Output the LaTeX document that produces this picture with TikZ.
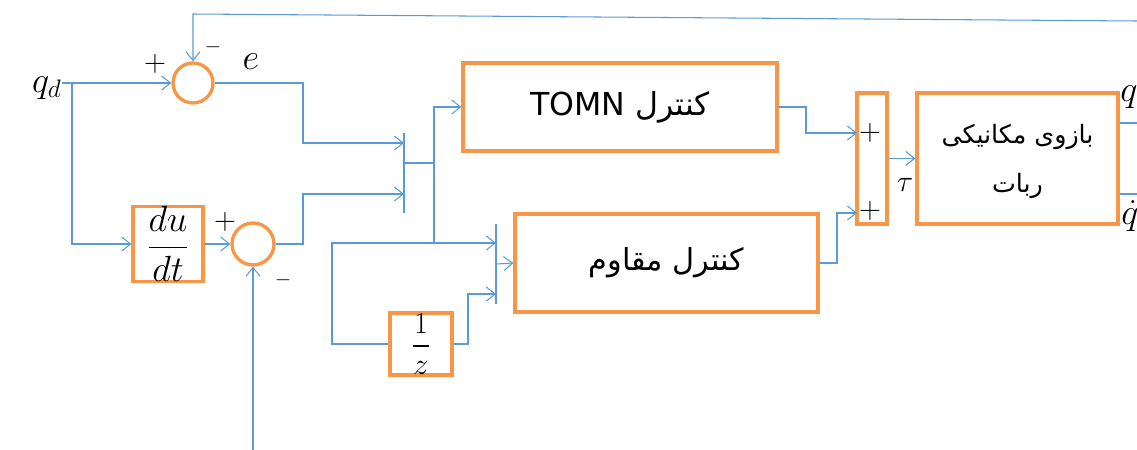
\documentclass[tikz,border=0pt]{standalone}
\usepackage{fontspec}
\usepackage{amsmath}
\usetikzlibrary{arrows.meta}
\newfontfamily\farsi[Script=Arabic]{DejaVu Sans}
\TeXXeTstate=1
\definecolor{wireblue}{RGB}{91,155,213}
\definecolor{boxorange}{RGB}{247,150,70}

\begin{document}
\begin{tikzpicture}[x=0.02cm,y=-0.02cm,
    wire/.style={draw=wireblue,line width=0.6pt},
    arr/.style={-{Straight Barb[length=5pt,width=8pt]}},
    blk/.style={draw=boxorange,line width=1.9pt,inner sep=0pt},
    sumc/.style={circle,draw=boxorange,line width=1.9pt,minimum size=0.8cm,inner sep=0pt},
    bar/.style={draw=wireblue,line width=0.6pt,minimum width=0pt,minimum height=1.6cm,inner sep=0pt},
    lbl/.style={font=\LARGE,inner sep=0pt},
    sym/.style={font=\fontsize{21}{25}\selectfont,inner sep=0pt}]
    \useasboundingbox (0,0) rectangle (1137,450);
    \node[sumc] (sumA) at (193,83) {};
    \node[sumc,minimum size=0.84cm] (sumB) at (253,244) {};
    \node[blk,minimum width=1.4cm,minimum height=1.42cm,font=\huge] (deriv) at (168,244) {$\dfrac{du}{dt}$};
    \node[blk,minimum width=1.24cm,minimum height=1.24cm,font=\LARGE] (delay) at (421,344) {$\dfrac{1}{z}$};
    \node[blk,minimum width=6.28cm,minimum height=1.76cm,font=\farsi\fontsize{18}{22}\selectfont] (tomn) at (620,107) {\beginR کنترل \beginL TOMN\endL\endR};
    \node[blk,minimum width=6.06cm,minimum height=1.96cm,font=\farsi\LARGE] (robust) at (666.5,263) {\beginR کنترل مقاوم\endR\hspace{1em}};
    \node[blk,minimum width=0.6cm,minimum height=2.62cm] (adder) at (872,158.5) {};
    \node[blk,minimum width=4.02cm,minimum height=2.62cm,align=center,font=\farsi\Large] (robot) at (1017.5,158.5) {\rule{0pt}{14pt}\beginR بازوی مکانیکی\endR\\[10pt]\beginR ربات\endR};
    \node[bar] (muxA) at (404,173) {};
    \node[bar] (muxB) at (496,264) {};

    \node[sym,font=\fontsize{22}{26}\selectfont,anchor=east] (qd) at (62,88) {$q_d$};
    \node[lbl] (pA) at (155,64) {$+$};
    \node[lbl,font=\large] (mA) at (213,47) {$-$};
    \node[sym] (err) at (251,62) {$e$};
    \node[lbl] (pB) at (225,222) {$+$};
    \node[lbl,font=\large] (mB) at (283,280) {$-$};
    \node[lbl] (pC) at (870,133) {$+$};
    \node[lbl] (pD) at (870,211) {$+$};
    \node[sym,font=\fontsize{19}{23}\selectfont] (tau) at (905,185) {$\tau$};
    \node[sym,anchor=west] (qout) at (1120,97) {$q$};
    \node[sym,anchor=west] (qdot) at (1121,216) {$\dot q$};

    \coordinate (brA) at (72,83);
    \coordinate (fbR) at (1137,21);
    \coordinate (fbL) at (193,14);
    \coordinate (inB) at (253,450);
    \coordinate (m1a) at (404,143);
    \coordinate (m1b) at (404,194);
    \coordinate (jA) at (434,163);
    \coordinate (jB) at (434,243);
    \coordinate (lp) at (332,243);
    \coordinate (m2a) at (496,243);
    \coordinate (m2c) at (496,294);
    \coordinate (aIn) at (857,133);
    \coordinate (bIn) at (857,213);
    \coordinate (yq) at (1137,123);
    \coordinate (yqd) at (1137,194);

    \draw[wire,arr] (qd.east |- sumA) -- (sumA.west);
    \draw[wire,arr] (brA) |- (deriv.west);
    \draw[wire,arr] (deriv.east) -- (sumB.west);
    \draw[wire,arr] (fbR) -- (fbL) -- (sumA.north);
    \draw[wire,arr] (inB) -- (sumB.south);
    \draw[wire,arr] (sumA.east) -| (303,143) -- (m1a);
    \draw[wire,arr] (sumB.east) -| (303,194) -- (m1b);
    \draw[wire] (muxA.east |- jA) -- (jA);
    \draw[wire,arr] (jB) |- (tomn.west);
    \draw[wire,arr] (delay.west) -| (lp) -- (m2a);
    \draw[wire,arr] (delay.east) -| (468,294) -- (m2c);
    \draw[wire,arr] (muxB.east) -- (robust.west);
    \draw[wire,arr] (tomn.east) -| (806,133) -- (aIn);
    \draw[wire,arr] (robust.east) -| (837,213) -- (bIn);
    \draw[wire,arr] (adder.east) -- (robot.west);
    \draw[wire] (robot.east |- yq) -- (yq);
    \draw[wire] (robot.east |- yqd) -- (yqd);
\end{tikzpicture}
\end{document}
